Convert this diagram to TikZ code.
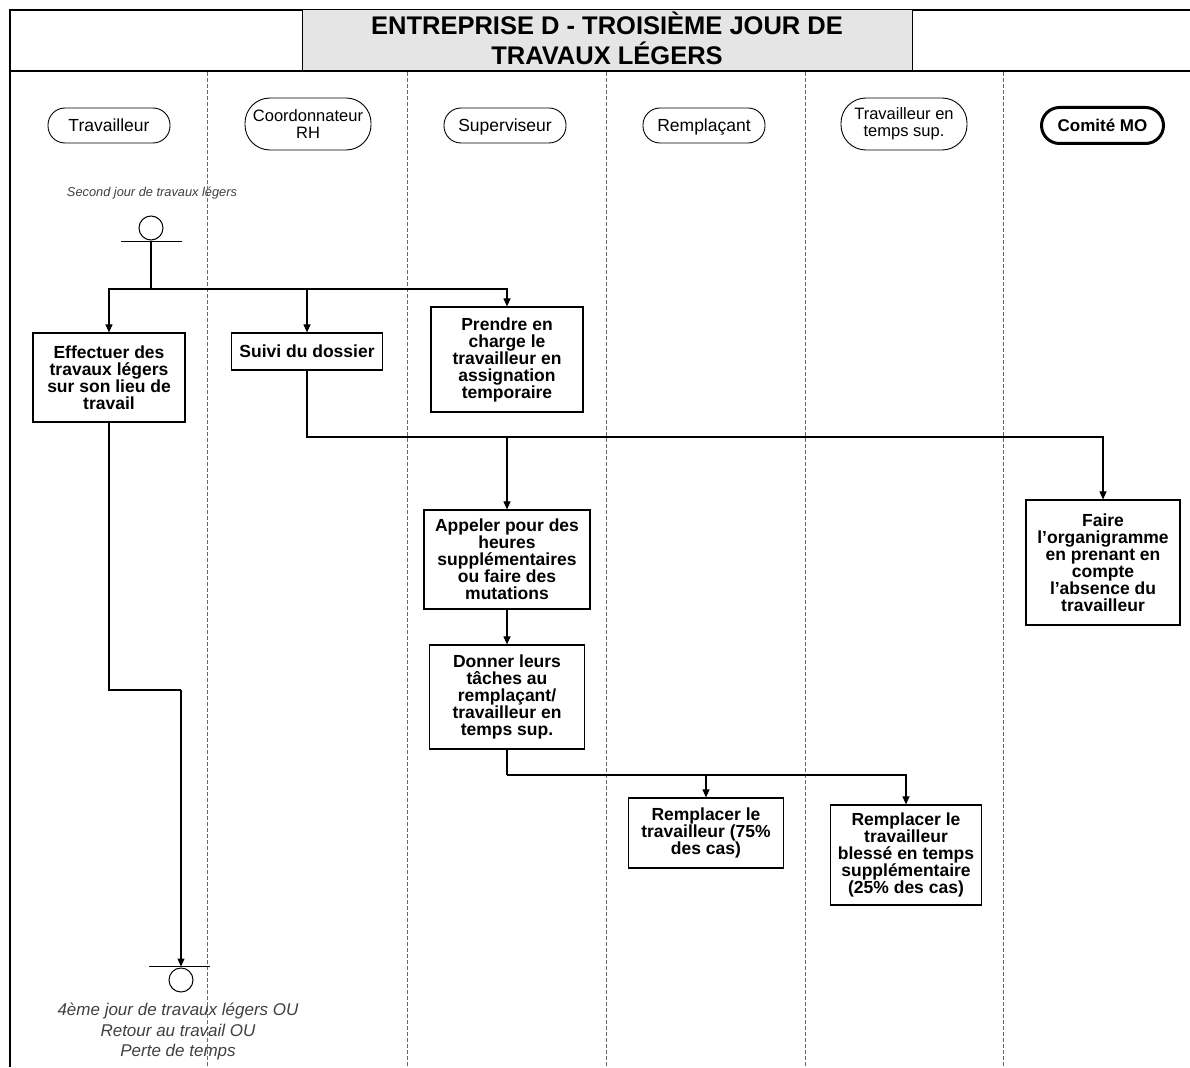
\documentclass[tikz,border=0pt]{standalone}
\usepackage{fontspec}
\setmainfont{Liberation Sans}
\usetikzlibrary{positioning, arrows.meta, calc}

\begin{document}
\begin{tikzpicture}[x=1pt, y=-1pt,
    lane/.style={draw, line width=0.9pt, rounded corners=17pt, minimum width=122pt, minimum height=35pt,
      inner sep=1pt, align=center, text height=13pt, text depth=0.5pt, font=\fontsize{17.5}{17}\selectfont},
    lanetwo/.style={draw, line width=0.9pt, rounded corners=25pt, minimum width=126pt, minimum height=52pt,
      inner sep=1pt, align=center, font=\fontsize{16.5}{17}\selectfont},
    task/.style={draw, line width=1.2pt, align=center, inner sep=2pt, font=\bfseries\fontsize{17.5}{17}\selectfont},
    wire/.style={line width=1.1pt},
    link/.style={wire, -{Triangle[length=8pt,width=7pt]}},
    evt/.style={circle, draw, line width=1pt, minimum size=24pt, inner sep=0pt},
    note/.style={align=center, text=black!75}]
  \useasboundingbox (0,0) rectangle (1190,1067);

  % Frame and title
  \draw[line width=1.2pt] (10,1067) -- (10,10) -- (1190,10);
  \draw[line width=1.6pt] (10,71) -- (1190,71);
  \node[draw, line width=1pt, fill=black!10, minimum width=610pt, minimum height=61pt] (titre) at (607,40.5) {};
  \node[align=center, font=\bfseries\fontsize{25.5}{30}\selectfont] (titretxt) at (607,38.5)
    {ENTREPRISE D - TROISIÈME JOUR DE\\TRAVAUX LÉGERS};

  % Lanes
  \foreach \x in {207,407,606,805,1003} {
    \draw[black!60, line width=1pt, dash pattern=on 4pt off 2pt] (\x,72) -- (\x,1067);
  }
  \node[lane] (travailleur) at (109,125.5) {Travailleur};
  \node[lanetwo] (coordo) at (308,124) {Coordonnateur\\RH};
  \node[lane] (superviseur) at (505,125.5) {Superviseur};
  \node[lane] (remplacant) at (704,125.5) {Remplaçant};
  \node[lanetwo] (tempssup) at (904,124) {Travailleur en\\temps sup.};
  \node[lane, line width=3pt, rounded corners=18pt, minimum height=36pt, font=\bfseries\fontsize{17}{17}\selectfont]
    (comite) at (1102.5,125.5) {Comité MO};

  % Start
  \node[note, font=\itshape\fontsize{12.8}{15}\selectfont] (debutlbl) at (152,193) {Second jour de travaux légers};
  \node[evt] (debut) at (151,228) {};
  \coordinate (debutbar) at (151,241.5);
  \draw[line width=1pt] ($(debutbar)+(-30,0)$) -- ($(debutbar)+(31,0)$);
  \coordinate (j1) at (151,289);

  % Tasks
  \node[task, minimum width=152pt, minimum height=89pt] (effectuer) at (109,377.5)
    {Effectuer des\\travaux légers\\sur son lieu de\\travail};
  \node[task, minimum width=151pt, minimum height=37pt] (suivi) at (307,351.5) {Suivi du dossier};
  \node[task, minimum width=152pt, minimum height=105pt] (prendre) at (507,359.5)
    {Prendre en\\charge le\\travailleur en\\assignation\\temporaire};
  \node[task, minimum width=166pt, minimum height=99pt] (appeler) at (507,559.5)
    {Appeler pour des\\heures\\supplémentaires\\ou faire des\\mutations};
  \node[task, minimum width=155pt, minimum height=104pt] (donner) at (507,697)
    {Donner leurs\\tâches au\\remplaçant/\\travailleur en\\temps sup.};
  \node[task, minimum width=155pt, minimum height=70pt] (rempl75) at (706,833)
    {Remplacer le\\travailleur (75\%\\des cas)};
  \node[task, minimum width=151pt, minimum height=100pt] (rempl25) at (906,855)
    {Remplacer le\\travailleur\\blessé en temps\\supplémentaire\\(25\% des cas)};
  \node[task, minimum width=154pt, minimum height=125pt] (organi) at (1103,562.5)
    {Faire\\l’organigramme\\en prenant en\\compte\\l’absence du\\travailleur};

  % End
  \node[evt] (fin) at (181,980) {};
  \coordinate (finbar) at (181,966.5);
  \draw[line width=1pt] ($(finbar)+(-32,0)$) -- ($(finbar)+(29,0)$);
  \node[note, font=\itshape\fontsize{17}{20.5}\selectfont] (finlbl) at (178,1031.5)
    {4ème jour de travaux légers OU\\Retour au travail OU\\Perte de temps};

  % Connectors
  \coordinate (j2) at (507,437);
  \coordinate (j3) at (507,775);
  \coordinate (j4) at (181,690);
  \draw[wire, line width=1.8pt] (debutbar) -- (j1);
  \draw[link] (j1) -| (effectuer.north);
  \draw[link] (j1) -| (suivi.north);
  \draw[link] (j1) -| (prendre.north);
  \draw[wire, line width=1.6pt] (suivi.south) |- (j2);
  \draw[link] (j2) -| (organi.north);
  \draw[link] (j2) -- (appeler.north);
  \draw[link] (appeler.south) -- (donner.north);
  \draw[wire, line width=1.6pt] (donner.south) |- (j3);
  \draw[link] (j3) -| (rempl75.north);
  \draw[link] (j3) -| (rempl25.north);
  \draw[wire] (effectuer.south) |- (j4);
  \draw[link] (j4) -- (finbar);
\end{tikzpicture}
\end{document}
